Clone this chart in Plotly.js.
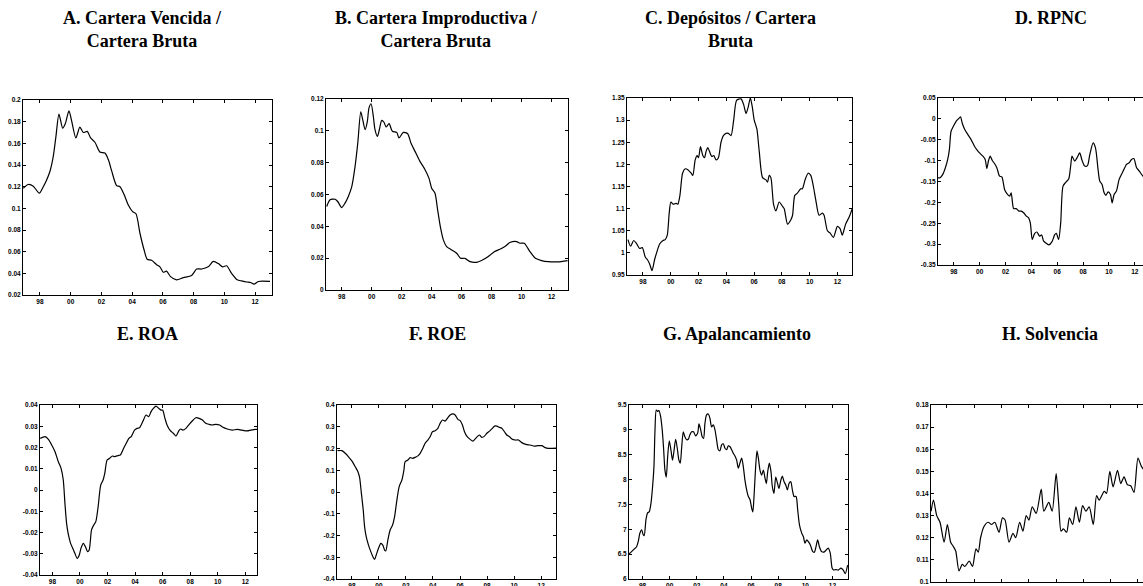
<!DOCTYPE html>
<html>
<head>
<meta charset="utf-8">
<script src="https://cdn.plot.ly/plotly-3.0.1.min.js"></script>
<style>
html,body{margin:0;padding:0;background:#fff;overflow:hidden;width:1143px;height:586px;}
#chart{width:1165px;height:586px;}
</style>
</head>
<body>
<div id="chart"></div>
<script>
// ---------- tick labels ----------
const yearTicks = [1998, 2000, 2002, 2004, 2006, 2008, 2010, 2012];
const yearLabels = ['98', '00', '02', '04', '06', '08', '10', '12'];

const aTickVals = [0.02, 0.04, 0.06, 0.08, 0.1, 0.12, 0.14, 0.16, 0.18, 0.2];
const aTickText = ['0.02', '0.04', '0.06', '0.08', '0.1', '0.12', '0.14', '0.16', '0.18', '0.2'];
const bTickVals = [0, 0.02, 0.04, 0.06, 0.08, 0.1, 0.12];
const bTickText = ['0', '0.02', '0.04', '0.06', '0.08', '0.1', '0.12'];
const cTickVals = [0.95, 1, 1.05, 1.1, 1.15, 1.2, 1.25, 1.3, 1.35];
const cTickText = ['0.95', '1', '1.05', '1.1', '1.15', '1.2', '1.25', '1.3', '1.35'];
const dTickVals = [-0.35, -0.3, -0.25, -0.2, -0.15, -0.1, -0.05, 0, 0.05];
const dTickText = ['-0.35', '-0.3', '-0.25', '-0.2', '-0.15', '-0.1', '-0.05', '0', '0.05'];
const eTickVals = [-0.04, -0.03, -0.02, -0.01, 0, 0.01, 0.02, 0.03, 0.04];
const eTickText = ['-0.04', '-0.03', '-0.02', '-0.01', '0', '0.01', '0.02', '0.03', '0.04'];
const fTickVals = [-0.4, -0.3, -0.2, -0.1, 0, 0.1, 0.2, 0.3, 0.4];
const fTickText = ['-0.4', '-0.3', '-0.2', '-0.1', '0', '0.1', '0.2', '0.3', '0.4'];
const gTickVals = [6, 6.5, 7, 7.5, 8, 8.5, 9, 9.5];
const gTickText = ['6', '6.5', '7', '7.5', '8', '8.5', '9', '9.5'];
const hTickVals = [0.1, 0.11, 0.12, 0.13, 0.14, 0.15, 0.16, 0.17, 0.18];
const hTickText = ['0.1', '0.11', '0.12', '0.13', '0.14', '0.15', '0.16', '0.17', '0.18'];

// ---------- titles ----------
const panelTitles = [
  'A. Cartera Vencida /<br>Cartera Bruta',
  'B. Cartera Improductiva /<br>Cartera Bruta',
  'C. Depósitos / Cartera<br>Bruta',
  'D. RPNC',
  'E. ROA',
  'F. ROE',
  'G. Apalancamiento',
  'H. Solvencia'
];

// ---------- series (year, value) ----------
const aYears = [1996.92,1997.24,1997.57,1997.96,1998.22,1998.43,1998.65,1998.87,1999.04,1999.24,1999.48,1999.65,1999.89,2000.06,2000.34,2000.60,2000.82,2001.08,2001.30,2001.58,2001.90,2002.23,2002.45,2002.66,2002.99,2003.21,2003.53,2003.75,2004.03,2004.25,2004.51,2004.77,2004.98,2005.27,2005.59,2005.81,2006.03,2006.24,2006.50,2006.89,2007.33,2007.87,2008.20,2008.52,2008.95,2009.28,2009.61,2009.89,2010.15,2010.47,2010.84,2011.12,2011.45,2011.71,2011.93,2012.21,2012.97];
const aValues = [0.1185,0.122,0.1205,0.114,0.12,0.126,0.134,0.148,0.166,0.187,0.174,0.178,0.19,0.181,0.165,0.175,0.17,0.171,0.165,0.161,0.152,0.151,0.145,0.135,0.121,0.12,0.111,0.103,0.097,0.095,0.077,0.062,0.053,0.052,0.048,0.046,0.041,0.042,0.037,0.034,0.036,0.038,0.044,0.044,0.046,0.051,0.049,0.046,0.047,0.040,0.034,0.033,0.032,0.0315,0.030,0.0325,0.0325];

const bYears = [1997.0,1997.22,1997.56,1997.73,1998.0,1998.22,1998.44,1998.67,1998.89,1999.07,1999.27,1999.4,1999.56,1999.71,1999.82,1999.96,2000.11,2000.22,2000.38,2000.51,2000.67,2000.82,2000.96,2001.16,2001.38,2001.67,2001.82,2002.11,2002.4,2002.62,2002.89,2003.22,2003.56,2003.82,2004.0,2004.22,2004.4,2004.6,2004.78,2005.0,2005.33,2005.67,2005.93,2006.22,2006.56,2007.0,2007.33,2007.78,2008.18,2008.56,2008.89,2009.22,2009.67,2009.89,2010.18,2010.56,2010.93,2011.33,2011.78,2012.4,2013.07];
const bValues = [0.0525,0.0567,0.057,0.0556,0.0518,0.0546,0.0588,0.065,0.0777,0.0923,0.112,0.107,0.1007,0.106,0.1144,0.117,0.109,0.1007,0.0965,0.1007,0.1066,0.1054,0.1024,0.1045,0.0997,0.099,0.0955,0.099,0.0982,0.0923,0.0871,0.0808,0.0756,0.0703,0.064,0.0609,0.0504,0.0388,0.0315,0.0273,0.0252,0.0231,0.0199,0.0199,0.0178,0.0174,0.0185,0.021,0.0241,0.0256,0.0273,0.0298,0.0304,0.0294,0.0294,0.0241,0.0199,0.0185,0.0178,0.0177,0.0185];

const cYears = [1996.92,1997.11,1997.33,1997.52,1997.76,1997.95,1998.17,1998.31,1998.48,1998.65,1998.84,1998.98,1999.2,1999.44,1999.6,1999.75,1999.89,2000.01,2000.18,2000.39,2000.51,2000.66,2000.85,2001.04,2001.23,2001.47,2001.59,2001.76,2001.9,2002.0,2002.14,2002.31,2002.43,2002.55,2002.67,2002.78,2002.95,2003.1,2003.26,2003.43,2003.62,2003.79,2003.98,2004.15,2004.34,2004.53,2004.75,2005.06,2005.25,2005.42,2005.58,2005.73,2005.87,2006.01,2006.2,2006.37,2006.61,2006.85,2006.97,2007.09,2007.21,2007.4,2007.57,2007.81,2008.05,2008.17,2008.41,2008.65,2008.77,2008.93,2009.12,2009.36,2009.48,2009.67,2009.89,2010.08,2010.27,2010.44,2010.68,2010.92,2011.04,2011.28,2011.47,2011.71,2012.0,2012.19,2012.35,2012.59,2012.83,2013.07];
const cValues = [1.03,1.015,1.028,1.022,1.01,1.012,0.99,0.985,0.975,0.96,0.985,1.0,1.02,1.028,1.03,1.04,1.09,1.115,1.11,1.112,1.11,1.13,1.18,1.19,1.188,1.18,1.175,1.21,1.22,1.215,1.24,1.22,1.215,1.23,1.238,1.23,1.218,1.22,1.21,1.215,1.25,1.265,1.27,1.27,1.265,1.3,1.345,1.348,1.335,1.315,1.33,1.35,1.33,1.30,1.28,1.23,1.17,1.165,1.16,1.175,1.17,1.11,1.095,1.115,1.105,1.1,1.065,1.075,1.085,1.13,1.135,1.145,1.145,1.165,1.18,1.175,1.15,1.12,1.085,1.09,1.085,1.05,1.045,1.035,1.06,1.055,1.04,1.065,1.08,1.1];

const dYears = [1996.76,1996.94,1997.15,1997.35,1997.53,1997.66,1997.79,1997.97,1998.18,1998.36,1998.52,1998.65,1998.83,1999.09,1999.34,1999.6,1999.78,1999.99,2000.25,2000.43,2000.56,2000.69,2000.82,2000.97,2001.15,2001.33,2001.54,2001.72,2001.93,2002.11,2002.32,2002.44,2002.63,2002.83,2003.04,2003.22,2003.4,2003.61,2003.79,2003.92,2004.07,2004.25,2004.43,2004.64,2004.8,2004.95,2005.16,2005.36,2005.6,2005.8,2005.93,2006.11,2006.27,2006.45,2006.66,2006.89,2007.04,2007.15,2007.35,2007.53,2007.74,2007.92,2008.13,2008.34,2008.52,2008.78,2008.96,2009.16,2009.29,2009.47,2009.63,2009.76,2009.94,2010.12,2010.25,2010.4,2010.58,2010.79,2011.1,2011.36,2011.57,2011.75,2011.93,2012.14,2012.35,2012.63,2013.0];
const dValues = [-0.141,-0.141,-0.133,-0.117,-0.097,-0.0735,-0.0297,-0.0177,-0.0058,0.0,0.0046,-0.0098,-0.0241,-0.0377,-0.0496,-0.0655,-0.0735,-0.0815,-0.0894,-0.0974,-0.119,-0.0998,-0.0894,-0.099,-0.107,-0.117,-0.137,-0.139,-0.169,-0.179,-0.185,-0.177,-0.215,-0.215,-0.221,-0.221,-0.225,-0.233,-0.237,-0.249,-0.289,-0.275,-0.271,-0.281,-0.278,-0.293,-0.298,-0.302,-0.294,-0.278,-0.274,-0.289,-0.249,-0.161,-0.152,-0.144,-0.113,-0.0894,-0.101,-0.0934,-0.0815,-0.099,-0.113,-0.112,-0.0855,-0.0576,-0.0695,-0.121,-0.149,-0.157,-0.177,-0.183,-0.175,-0.181,-0.201,-0.181,-0.173,-0.145,-0.125,-0.109,-0.105,-0.0974,-0.095,-0.117,-0.125,-0.137,-0.145];

const eYears = [1997.11,1997.47,1997.71,1997.95,1998.19,1998.43,1998.63,1998.79,1998.91,1999.03,1999.15,1999.32,1999.51,1999.63,1999.8,1999.95,2000.07,2000.24,2000.4,2000.55,2000.67,2000.84,2001.0,2001.15,2001.32,2001.51,2001.68,2001.8,2001.97,2002.16,2002.35,2002.52,2002.76,2002.93,2003.17,2003.36,2003.55,2003.72,2003.96,2004.15,2004.32,2004.56,2004.8,2004.99,2005.16,2005.33,2005.52,2005.72,2005.88,2006.0,2006.17,2006.32,2006.53,2006.77,2006.97,2007.21,2007.33,2007.45,2007.69,2007.93,2008.17,2008.41,2008.65,2008.89,2009.13,2009.37,2009.61,2009.85,2010.14,2010.38,2010.69,2011.05,2011.41,2011.73,2012.13,2012.42,2012.74,2012.9];
const eValues = [0.0243,0.0251,0.0238,0.0212,0.018,0.0133,0.0102,0.0047,-0.0063,-0.0157,-0.0207,-0.0251,-0.0279,-0.0298,-0.0322,-0.0306,-0.0275,-0.0251,-0.0267,-0.029,-0.0282,-0.0188,-0.0165,-0.0149,-0.0078,0.0024,0.0047,0.0078,0.0141,0.0149,0.016,0.0157,0.0162,0.0165,0.0196,0.022,0.0243,0.0251,0.0282,0.029,0.0293,0.0322,0.0353,0.0345,0.0369,0.0384,0.0395,0.0384,0.0376,0.0376,0.0337,0.0306,0.0282,0.0267,0.0254,0.0282,0.0287,0.0282,0.029,0.0309,0.0326,0.034,0.0337,0.0329,0.0314,0.0309,0.0306,0.0309,0.0306,0.0295,0.0287,0.0282,0.0285,0.0282,0.0278,0.0282,0.0285,0.0285];

const fYears = [1996.94,1997.26,1997.51,1997.75,1998.0,1998.25,1998.44,1998.57,1998.69,1998.84,1998.94,1999.06,1999.23,1999.4,1999.55,1999.68,1999.8,1999.97,2000.14,2000.29,2000.42,2000.51,2000.66,2000.83,2001.01,2001.16,2001.33,2001.5,2001.7,2001.85,2001.94,2002.14,2002.31,2002.49,2002.68,2002.88,2003.05,2003.25,2003.42,2003.62,2003.79,2003.96,2004.16,2004.36,2004.53,2004.7,2004.9,2005.07,2005.27,2005.47,2005.64,2005.84,2006.01,2006.18,2006.33,2006.5,2006.75,2006.95,2007.12,2007.32,2007.44,2007.61,2007.81,2007.98,2008.18,2008.35,2008.55,2008.72,2008.92,2009.09,2009.29,2009.46,2009.66,2009.83,2010.08,2010.33,2010.57,2010.87,2011.19,2011.51,2011.75,2012.05,2012.3,2012.54,2013.1];
const fValues = [0.19,0.19,0.178,0.162,0.143,0.116,0.094,0.067,0.002,-0.083,-0.159,-0.205,-0.244,-0.274,-0.297,-0.31,-0.29,-0.259,-0.236,-0.244,-0.267,-0.271,-0.221,-0.175,-0.152,-0.113,-0.037,0.025,0.055,0.101,0.139,0.147,0.158,0.155,0.159,0.166,0.178,0.201,0.224,0.239,0.254,0.277,0.282,0.293,0.316,0.331,0.326,0.339,0.354,0.359,0.354,0.334,0.328,0.308,0.277,0.257,0.242,0.234,0.244,0.257,0.262,0.251,0.257,0.27,0.28,0.29,0.303,0.303,0.297,0.293,0.277,0.262,0.254,0.244,0.239,0.239,0.227,0.219,0.216,0.211,0.213,0.213,0.204,0.201,0.202];

const gYears = [1996.99,1997.19,1997.38,1997.56,1997.68,1997.8,1997.93,1998.05,1998.12,1998.25,1998.37,1998.49,1998.62,1998.74,1998.84,1998.91,1999.01,1999.11,1999.21,1999.33,1999.45,1999.55,1999.65,1999.75,1999.85,1999.97,2000.09,2000.21,2000.31,2000.44,2000.56,2000.68,2000.78,2000.88,2001.0,2001.12,2001.25,2001.37,2001.49,2001.62,2001.76,2001.91,2002.06,2002.16,2002.28,2002.4,2002.5,2002.6,2002.72,2002.85,2002.97,2003.09,2003.22,2003.34,2003.46,2003.59,2003.71,2003.83,2003.95,2004.08,2004.2,2004.32,2004.45,2004.57,2004.69,2004.82,2004.94,2005.06,2005.18,2005.31,2005.43,2005.55,2005.68,2005.8,2005.92,2006.05,2006.13,2006.22,2006.34,2006.44,2006.54,2006.66,2006.78,2006.91,2007.03,2007.13,2007.23,2007.35,2007.47,2007.57,2007.69,2007.82,2007.94,2008.06,2008.19,2008.31,2008.43,2008.56,2008.68,2008.8,2008.93,2009.05,2009.17,2009.32,2009.44,2009.57,2009.74,2009.86,2009.98,2010.11,2010.23,2010.38,2010.55,2010.67,2010.79,2010.91,2011.04,2011.21,2011.36,2011.53,2011.69,2011.84,2011.98,2012.09,2012.26,2012.43,2012.63,2012.8,2012.95,2013.12];
const gValues = [6.50,6.55,6.60,6.65,6.75,6.92,6.99,6.89,6.87,7.19,7.33,7.35,7.52,7.86,8.26,8.93,9.40,9.37,9.39,9.27,9.00,8.63,8.19,8.05,8.46,8.78,8.60,8.39,8.56,8.81,8.63,8.39,8.33,8.63,8.96,8.86,8.80,8.81,8.90,8.96,8.96,8.88,8.93,9.12,9.01,8.86,8.83,9.13,9.30,9.32,9.23,9.06,9.10,9.00,8.80,8.60,8.58,8.70,8.72,8.63,8.60,8.68,8.66,8.60,8.53,8.47,8.39,8.23,8.33,8.43,8.26,7.99,7.79,7.66,7.60,7.42,7.35,7.66,8.26,8.58,8.43,8.19,8.09,8.19,8.03,7.92,8.16,8.33,8.16,7.86,7.72,8.05,7.94,7.82,7.98,8.07,7.96,7.89,7.79,7.92,7.96,7.79,7.66,7.66,7.39,7.09,6.92,6.85,6.72,6.79,6.75,6.68,6.55,6.54,6.65,6.79,6.65,6.55,6.54,6.58,6.62,6.52,6.22,6.18,6.19,6.18,6.22,6.18,6.11,6.28];

const hYears = [1996.86,1997.03,1997.27,1997.51,1997.81,1998.05,1998.29,1998.49,1998.66,1998.9,1999.14,1999.33,1999.65,1999.89,2000.14,2000.31,2000.48,2000.72,2001.03,2001.28,2001.52,2001.83,2002.08,2002.27,2002.56,2002.85,2003.05,2003.34,2003.58,2003.82,2004.02,2004.26,2004.55,2004.92,2005.11,2005.47,2005.72,2006.01,2006.2,2006.37,2006.54,2006.78,2006.98,2007.22,2007.46,2007.71,2007.95,2008.19,2008.43,2008.73,2008.97,2009.16,2009.53,2009.7,2009.94,2010.18,2010.5,2010.74,2010.98,2011.22,2011.47,2011.71,2012.0,2012.27,2012.6,2013.0];
const hValues = [0.132,0.137,0.13,0.127,0.118,0.126,0.118,0.116,0.114,0.105,0.108,0.107,0.1095,0.107,0.115,0.1135,0.12,0.125,0.127,0.126,0.127,0.1225,0.129,0.128,0.118,0.122,0.12,0.127,0.123,0.13,0.128,0.134,0.131,0.142,0.132,0.136,0.132,0.149,0.135,0.123,0.124,0.1225,0.129,0.126,0.134,0.127,0.1345,0.132,0.134,0.126,0.139,0.137,0.141,0.14,0.15,0.143,0.1505,0.1445,0.1475,0.144,0.1435,0.1405,0.156,0.152,0.15,0.15];

// ---------- layout geometry (pixels in a 1165 x 586 canvas) ----------
const W = 1165, H = 586;
const panels = [
  {x: aYears, y: aValues, tv: aTickVals, tt: aTickText, box: [23, 272, 100, 295], xr: [1996.9, 2013.1], yr: [0.02, 0.2], title: [142, 6]},
  {x: bYears, y: bValues, tv: bTickVals, tt: bTickText, box: [326, 568, 99, 290], xr: [1996.95, 2013.1], yr: [0, 0.12], title: [436, 6]},
  {x: cYears, y: cValues, tv: cTickVals, tt: cTickText, box: [627, 852, 98, 275], xr: [1996.85, 2013.05], yr: [0.95, 1.35], title: [730, 6]},
  {x: dYears, y: dValues, tv: dTickVals, tt: dTickText, box: [938, 1149, 98, 265], xr: [1996.78, 2013.1], yr: [-0.35, 0.05], title: [1051, 6]},
  {x: eYears, y: eValues, tv: eTickVals, tt: eTickText, box: [40, 257, 405, 575], xr: [1997.1, 2012.85], yr: [-0.04, 0.04], title: [147, 322]},
  {x: fYears, y: fValues, tv: fTickVals, tt: fTickText, box: [337, 556, 405, 579], xr: [1996.9, 2013.1], yr: [-0.4, 0.4], title: [437, 322]},
  {x: gYears, y: gValues, tv: gTickVals, tt: gTickText, box: [629, 848, 405, 579], xr: [1997.0, 2013.15], yr: [6, 9.5], title: [737, 322]},
  {x: hYears, y: hValues, tv: hTickVals, tt: hTickText, box: [931, 1153, 405, 582], xr: [1996.85, 2013.1], yr: [0.1, 0.18], title: [1050, 322]}
];

const tickFont = {family: 'Liberation Sans', size: 6.5, color: '#000', weight: 'bold'};
const titleFont = {family: 'Liberation Serif', size: 18, color: '#000', weight: 'bold'};

const traces = [];
const layout = {
  width: W, height: H, autosize: false,
  margin: {l: 0, r: 0, t: 0, b: 0, pad: 0},
  paper_bgcolor: '#fff', plot_bgcolor: '#fff',
  showlegend: false,
  annotations: []
};

panels.forEach((p, i) => {
  const n = i + 1;
  const sfx = n === 1 ? '' : String(n);
  traces.push({
    x: p.x, y: p.y, type: 'scatter', mode: 'lines',
    xaxis: 'x' + sfx, yaxis: 'y' + sfx,
    line: {color: '#000', width: 1.2, shape: 'spline', smoothing: 0.7},
    hoverinfo: 'skip'
  });
  const common = {
    showline: true, linecolor: '#000', linewidth: 1, mirror: 'allticks',
    ticks: 'inside', ticklen: 3, tickwidth: 1, tickcolor: '#000',
    showgrid: false, zeroline: false, tickfont: tickFont, fixedrange: true
  };
  layout['xaxis' + sfx] = Object.assign({}, common, {
    domain: [p.box[0] / W, p.box[1] / W], range: p.xr,
    tickmode: 'array', tickvals: yearTicks, ticktext: yearLabels,
    anchor: 'y' + sfx
  });
  layout['yaxis' + sfx] = Object.assign({}, common, {
    domain: [1 - p.box[3] / H, 1 - p.box[2] / H], range: p.yr,
    tickmode: 'array', tickvals: p.tv, ticktext: p.tt,
    anchor: 'x' + sfx
  });
  layout.annotations.push({
    xref: 'paper', yref: 'paper', x: p.title[0] / W, y: 1 - p.title[1] / H,
    xanchor: 'center', yanchor: 'top', showarrow: false,
    text: panelTitles[i], font: titleFont, align: 'center'
  });
});

Plotly.newPlot('chart', traces, layout, {staticPlot: true, displayModeBar: false});
</script>
</body>
</html>
